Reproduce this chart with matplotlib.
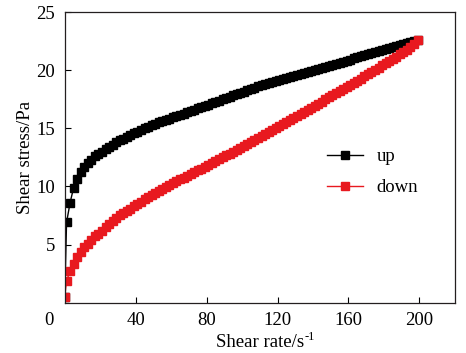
import matplotlib
matplotlib.use("Agg")
import matplotlib.pyplot as plt

plt.rcParams['font.family'] = ['Liberation Serif', 'DejaVu Serif']

# shear rate grid (s^-1)
rate = [0] + list(range(1, 200, 2))

# shear stress, up sweep (Pa)
stress_up = [0.5,
             6.9, 8.6, 9.9, 10.6, 11.2, 11.65, 12.0, 12.3, 12.6, 12.8,
             13.0, 13.2, 13.4, 13.6, 13.78, 13.95, 14.12, 14.28, 14.44, 14.58,
             14.72, 14.86, 15.0, 15.12, 15.25, 15.38, 15.5, 15.61, 15.72, 15.83,
             15.94, 16.05, 16.16, 16.27, 16.38, 16.49, 16.6, 16.71, 16.82, 16.93,
             17.04, 17.15, 17.27, 17.38, 17.49, 17.6, 17.71, 17.82, 17.93, 18.04,
             18.15, 18.26, 18.37, 18.48, 18.6, 18.7, 18.79, 18.88, 18.97, 19.06,
             19.15, 19.24, 19.33, 19.42, 19.5, 19.58, 19.67, 19.75, 19.84, 19.92,
             20.0, 20.09, 20.18, 20.26, 20.35, 20.44, 20.54, 20.63, 20.73, 20.82,
             20.91, 21.01, 21.1, 21.2, 21.29, 21.37, 21.46, 21.55, 21.64, 21.72,
             21.81, 21.9, 21.99, 22.07, 22.16, 22.25, 22.34, 22.42, 22.51, 22.6]

# shear stress, down sweep (Pa)
stress_down = [0.5,
               1.9, 2.7, 3.3, 3.9, 4.35, 4.75, 5.05, 5.35, 5.7, 5.95,
               6.2, 6.5, 6.8, 7.05, 7.28, 7.5, 7.7, 7.9, 8.1, 8.3,
               8.5, 8.7, 8.95, 9.1, 9.3, 9.45, 9.62, 9.8, 9.96, 10.12,
               10.28, 10.44, 10.6, 10.76, 10.92, 11.08, 11.22, 11.38, 11.54, 11.7,
               11.86, 12.02, 12.18, 12.34, 12.5, 12.66, 12.82, 12.99, 13.16, 13.33,
               13.5, 13.67, 13.84, 14.0, 14.17, 14.34, 14.51, 14.68, 14.85, 15.02,
               15.19, 15.36, 15.53, 15.7, 15.87, 16.05, 16.22, 16.4, 16.58, 16.76,
               16.94, 17.12, 17.3, 17.48, 17.66, 17.84, 18.02, 18.2, 18.38, 18.56,
               18.74, 18.92, 19.1, 19.28, 19.46, 19.64, 19.83, 20.02, 20.21, 20.4,
               20.59, 20.78, 20.97, 21.17, 21.37, 21.57, 21.77, 21.97, 22.25, 22.55]

x_ticks = [40, 80, 120, 160, 200]
y_ticks = [5, 10, 15, 20, 25]
fs = 13.5

fig = plt.figure(figsize=(4.66, 3.53), dpi=100)
ax = fig.add_axes([0.139, 0.1425, 0.837, 0.8235])

ax.plot(rate, stress_up, color='black', marker='s', markersize=5.6, lw=1, label='up')
ax.plot(rate, stress_down, color='#e8191f', marker='s', markersize=5.6, lw=1, label='down')

ax.set_xlim(0, 220)
ax.set_ylim(0, 25)
ax.set_xticks(x_ticks)
ax.set_yticks(y_ticks)
ax.tick_params(direction='in', length=4, width=0.8, labelsize=fs, pad=7)
for s in ax.spines.values():
    s.set_color('#231f20')
    s.set_linewidth(0.9)

ax.text(-0.04, -0.06, '0', transform=ax.transAxes, fontsize=fs,
        ha='center', va='center')

xl = ax.set_xlabel('Shear rate/s', fontsize=fs, labelpad=3)
ax.set_ylabel('Shear stress/Pa', fontsize=fs, labelpad=2)

ax.legend(loc='upper left', bbox_to_anchor=(0.672, 0.531), frameon=False,
          fontsize=fs, borderpad=0, borderaxespad=0, handlelength=1.9,
          handletextpad=0.75, labelspacing=0.72)

# small "-1" superscript after the x label
fig.canvas.draw()
bb = xl.get_window_extent()
fig.text((bb.x1 + 0.5) / fig.bbox.width, (bb.y1 + 3) / fig.bbox.height, '-1',
         fontsize=9, ha='left', va='top')

fig.savefig('out.png', dpi=100)
